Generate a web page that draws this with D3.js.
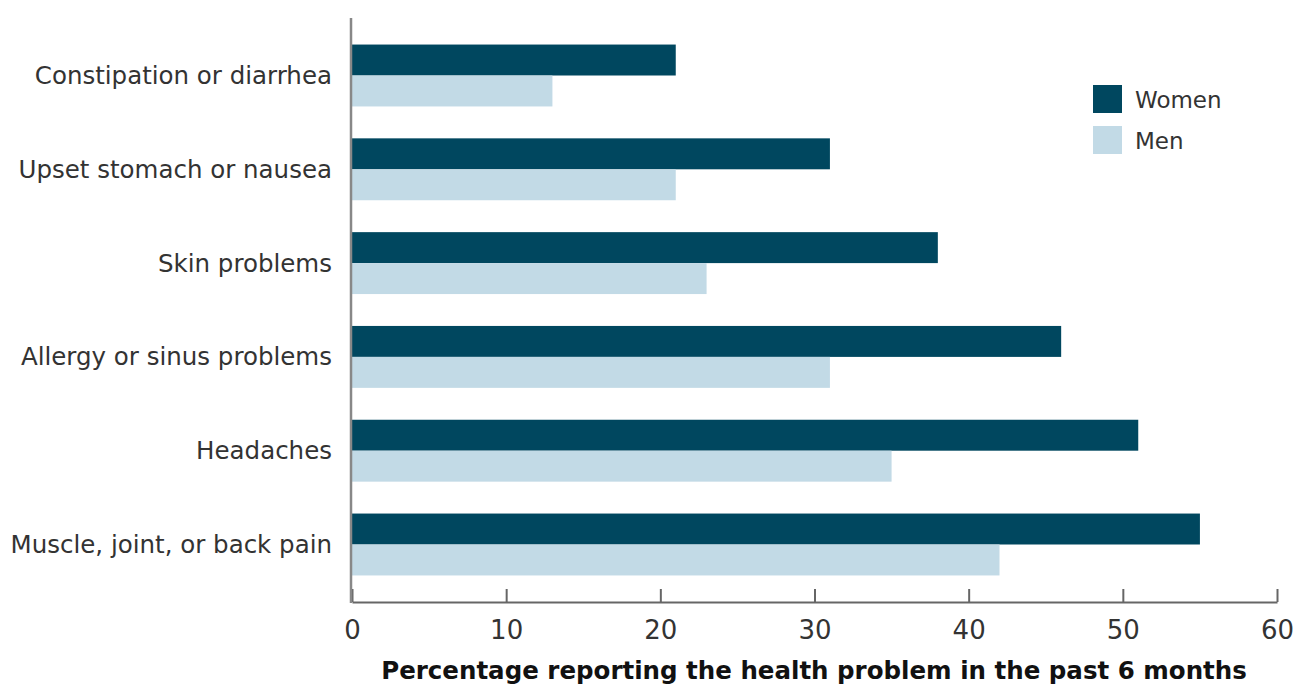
<!DOCTYPE html>
<html>
<head>
<meta charset="utf-8">
<script src="https://cdn.jsdelivr.net/npm/d3@7"></script>
<style>
  html, body { margin: 0; padding: 0; background: #fff; }
  svg { display: block; }
  text { font-family: "DejaVu Sans", sans-serif; fill: #333; }
</style>
</head>
<body>
<svg id="chart" width="1296" height="686"></svg>
<script>
const categories = [
  "Constipation or diarrhea",
  "Upset stomach or nausea",
  "Skin problems",
  "Allergy or sinus problems",
  "Headaches",
  "Muscle, joint, or back pain"
];
const seriesNames = ["Women", "Men"];
const women = [21, 31, 38, 46, 51, 55];
const men = [13, 21, 23, 31, 35, 42];
const xTicks = [0, 10, 20, 30, 40, 50, 60];
const axisTitle = "Percentage reporting the health problem in the past 6 months";

const colors = { Women: "#00475f", Men: "#c2dae6" };
const values = { Women: women, Men: men };

const svg = d3.select("#chart");
const plotLeft = 352, plotRight = 1277, plotTop = 18, plotBottom = 602;

const x = d3.scaleLinear().domain([0, 60]).range([plotLeft, plotRight]);
const y = d3.scaleBand().domain(categories).range([plotTop, plotBottom])
  .paddingInner(0.34).paddingOuter(0.283);
const ySub = d3.scaleBand().domain(seriesNames).range([0, y.bandwidth()]);

// bars
const groups = svg.append("g").selectAll("g")
  .data(categories).join("g")
  .attr("transform", d => `translate(0,${y(d)})`);

groups.selectAll("rect")
  .data((d, i) => seriesNames.map(s => ({ s, v: values[s][i] })))
  .join("rect")
  .attr("x", x(0))
  .attr("y", d => ySub(d.s))
  .attr("width", d => x(d.v) - x(0))
  .attr("height", ySub.bandwidth())
  .attr("fill", d => colors[d.s]);

// x axis with ticks pointing up
const xAxis = svg.append("g")
  .attr("transform", `translate(0,${plotBottom})`)
  .call(d3.axisBottom(x).tickValues(xTicks).tickSize(-13).tickPadding(19).tickSizeOuter(0));
xAxis.select(".domain").attr("stroke", "#666").attr("stroke-width", 2);
xAxis.selectAll(".tick line").attr("stroke", "#666").attr("stroke-width", 2);
xAxis.selectAll(".tick text")
  .attr("dy", "0.71em")
  .style("font-size", "26px").style("font-family", "'DejaVu Sans', sans-serif").style("fill", "#333");

// y axis line
svg.append("line")
  .attr("x1", plotLeft - 1).attr("x2", plotLeft - 1)
  .attr("y1", plotTop).attr("y2", plotBottom + 1)
  .attr("stroke", "#888").attr("stroke-width", 2.5);

// category labels
svg.append("g").selectAll("text")
  .data(categories).join("text")
  .attr("x", plotLeft - 20)
  .attr("y", d => y(d) + y.bandwidth() / 2)
  .attr("dy", "0.35em")
  .attr("text-anchor", "end")
  .style("font-size", "24.5px")
  .text(d => d);

// axis title
svg.append("text")
  .attr("x", 814)
  .attr("y", 679)
  .attr("text-anchor", "middle")
  .style("font-size", "24.5px")
  .style("font-weight", "bold")
  .style("fill", "#111")
  .text(axisTitle);

// legend
const legend = svg.append("g").selectAll("g")
  .data(seriesNames).join("g")
  .attr("transform", (d, i) => `translate(1093,${85 + i * 41})`);
legend.append("rect")
  .attr("width", 29).attr("height", 28)
  .attr("fill", d => colors[d]);
legend.append("text")
  .attr("x", 42).attr("y", 15).attr("dy", "0.35em")
  .style("font-size", "23px")
  .text(d => d);
</script>
</body>
</html>
